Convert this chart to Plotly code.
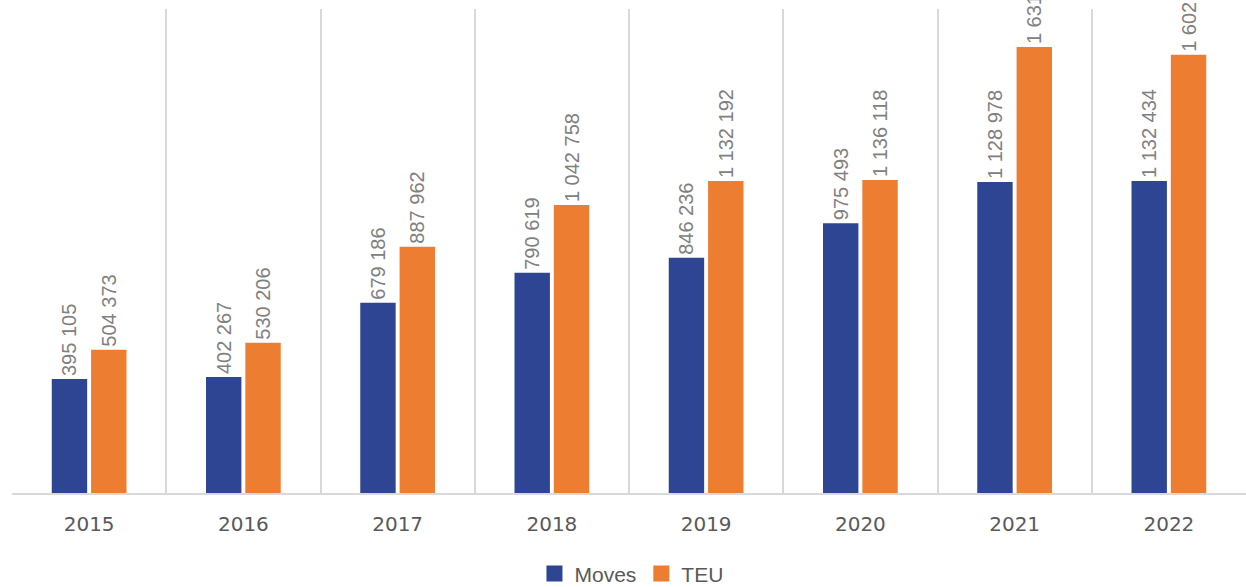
import plotly.graph_objects as go

years = ["2015", "2016", "2017", "2018", "2019", "2020", "2021", "2022"]
moves = [395105, 402267, 679186, 790619, 846236, 975493, 1128978, 1132434]
teu = [504373, 530206, 887962, 1042758, 1132192, 1136118, 1631200, 1602300]

AXIS_MIN = -29400
AXIS_MAX = 1773000

BLUE = "#2E4593"
ORANGE = "#ED7D31"


def fmt(v):
    return f"{v:,}".replace(",", " ")


fig = go.Figure()
for name, vals, col in [("Moves", moves, BLUE), ("TEU", teu, ORANGE)]:
    fig.add_trace(go.Bar(
        x=years,
        y=[v - AXIS_MIN for v in vals],
        base=AXIS_MIN,
        name=name,
        marker=dict(color=col, line=dict(width=0)),
        text=[fmt(v) for v in vals],
        textposition="outside",
        textangle=-90,
        constraintext="none",
        cliponaxis=False,
        textfont=dict(family="Liberation Sans", size=20, color="#808080"),
        showlegend=False,
        hovertemplate="%{x}: %{text}<extra>" + name + "</extra>",
    ))
    fig.add_trace(go.Scatter(
        x=[None], y=[None], mode="markers", name=name,
        marker=dict(symbol="square", size=16, color=col),
    ))

fig.update_layout(
    width=1246, height=587,
    margin=dict(l=12, r=0, t=9, b=94, autoexpand=False),
    paper_bgcolor="white", plot_bgcolor="white",
    barmode="group",
    bargap=0.49,
    bargroupgap=0.1,
    legend=dict(
        orientation="h", x=0.502, xanchor="center", y=-0.167, yanchor="middle",
        font=dict(family="Liberation Sans", size=21, color="#595959"),
        itemwidth=30,
    ),
    xaxis=dict(
        type="category",
        tickson="boundaries",
        showgrid=True, gridcolor="#D9D9D9", gridwidth=1.5,
        showline=True, linecolor="#D9D9D9", linewidth=1.5,
        ticks="", ticklabelstandoff=12,
        tickfont=dict(family="DejaVu Sans", size=20, color="#595959"),
    ),
    yaxis=dict(
        range=[AXIS_MIN, AXIS_MAX],
        showgrid=False, zeroline=False, showticklabels=False, showline=False,
    ),
)

fig.write_html(
    "out.html",
    config={"displayModeBar": False},
    post_script="document.body.style.margin='0';document.body.style.overflow='hidden';",
)
